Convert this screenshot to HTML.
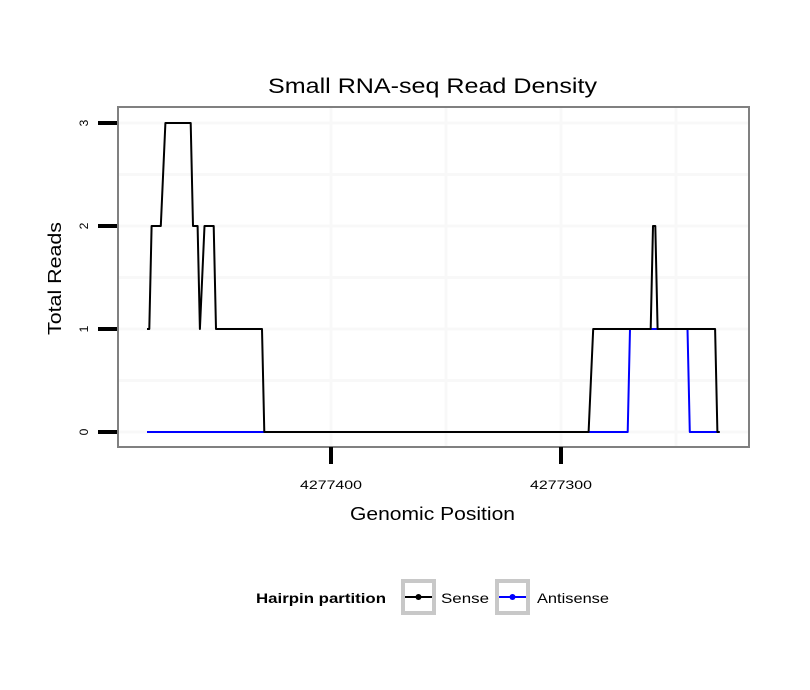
<!DOCTYPE html>
<html><head><meta charset="utf-8"><style>
body{margin:0;background:#fff;}
svg{display:block;font-family:"Liberation Sans",sans-serif;}
</style></head><body>
<svg id="chart" width="810" height="690">
<rect width="810" height="690" fill="#fff"/>
<text x="268" y="93" font-size="21" textLength="329" lengthAdjust="spacingAndGlyphs">Small RNA-seq Read Density</text>
<g id="grid"></g>
<g id="series"></g>
<rect x="118" y="107" width="631" height="340" fill="none" stroke="#808080" stroke-width="2"/>
<g id="axes"></g>
<text x="350" y="520" font-size="18" textLength="165" lengthAdjust="spacingAndGlyphs">Genomic Position</text>
<text transform="translate(61,335) rotate(-90)" font-size="18" textLength="113" lengthAdjust="spacingAndGlyphs">Total Reads</text>
<g>
<text x="256" y="603" font-size="14" font-weight="bold" textLength="130" lengthAdjust="spacingAndGlyphs">Hairpin partition</text>
<g>
<rect x="403" y="581" width="31" height="32" fill="none" stroke="#c8c8c8" stroke-width="4"/>
<line x1="405" y1="597" x2="432" y2="597" stroke="#000" stroke-width="2"/>
<circle cx="418.5" cy="597" r="3" fill="#000"/>
<text x="441" y="603" font-size="14" textLength="48" lengthAdjust="spacingAndGlyphs">Sense</text>
</g>
<g>
<rect x="497" y="581" width="31" height="32" fill="none" stroke="#c8c8c8" stroke-width="4"/>
<line x1="499" y1="597" x2="526" y2="597" stroke="#0000ff" stroke-width="2"/>
<circle cx="512.5" cy="597" r="3" fill="#0000ff"/>
<text x="537" y="603" font-size="14" textLength="72" lengthAdjust="spacingAndGlyphs">Antisense</text>
</g>
</g>
</svg>
<script>
const senseX=[4277480,4277479,4277478,4277474,4277472,4277461,4277460,4277458,4277457,4277455,4277451,4277450,4277430,4277429,4277288,4277286,4277261,4277260,4277259,4277258,4277233,4277232,4277231];
const senseY=[1,1,2,2,3,3,2,2,1,2,2,1,1,0,0,1,1,2,2,1,1,0,0];
const antiX=[4277480,4277271,4277270,4277245,4277244,4277231];
const antiY=[0,0,1,1,0,0];
const xTicks=[4277400,4277300];
const yTicks=[0,1,2,3];
const xGrid=[4277400,4277350,4277300,4277250];
const yMinor=[0.5,1.5,2.5];
const NS="http://www.w3.org/2000/svg";
function sx(p){return 331+(4277400-p)*2.3;}
function sy(v){return 432-v*103;}
function mk(tag,attrs,parent){const e=document.createElementNS(NS,tag);for(const k in attrs)e.setAttribute(k,attrs[k]);parent.appendChild(e);return e;}
const grid=document.getElementById('grid'),series=document.getElementById('series'),axes=document.getElementById('axes');
xGrid.forEach(p=>{const l=mk('line',{x1:sx(p),x2:sx(p),y1:108,y2:446,stroke:'#f8f8f8','stroke-width':3},grid);

});
yTicks.concat(yMinor).forEach(v=>{const l=mk('line',{x1:119,x2:748,y1:sy(v),y2:sy(v),stroke:'#f8f8f8','stroke-width':3},grid);

});
function path(xs,ys,color,name){let d='';xs.forEach((p,i)=>{d+=(i?'L':'M')+sx(p)+','+sy(ys[i]);});
const e=mk('path',{d:d,fill:'none',stroke:color,'stroke-width':2,'stroke-linejoin':'round'},series);

}
path(antiX,antiY,'#0000ff','antisense-line');
path(senseX,senseY,'#000','sense-line');
xTicks.forEach(p=>{const l=mk('line',{x1:sx(p),x2:sx(p),y1:447,y2:464,stroke:'#000','stroke-width':4},axes);


const t=mk('text',{x:sx(p),y:489,'font-size':12,'text-anchor':'middle',textLength:62,lengthAdjust:'spacingAndGlyphs'},axes);t.textContent=p;

});
yTicks.forEach(v=>{const l=mk('line',{x1:98,x2:117,y1:sy(v),y2:sy(v),stroke:'#000','stroke-width':4},axes);


const t=mk('text',{transform:'translate(88,'+sy(v)+') rotate(-90)','font-size':12,'text-anchor':'middle'},axes);t.textContent=v;

});
</script>
</body></html>
